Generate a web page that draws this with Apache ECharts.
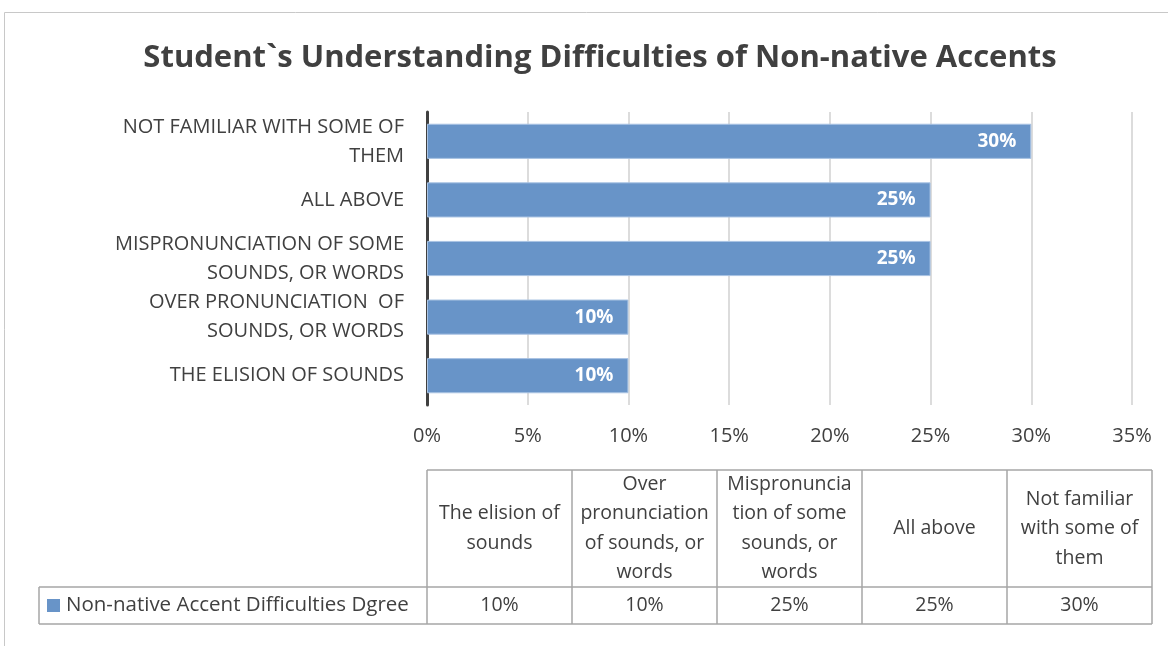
<!DOCTYPE html>
<html>
<head>
<meta charset="utf-8">
<script src="https://cdn.jsdelivr.net/npm/echarts@6/dist/echarts.min.js"></script>
<style>
  html, body { margin: 0; padding: 0; background: #fff; }
  #chart { width: 1168px; height: 646px; }
</style>
</head>
<body>
<div id="chart"></div>
<script>
// Categories, bottom to top on the axis (same order as the table columns)
const axisCategories = [
  'THE ELISION OF SOUNDS',
  'OVER PRONUNCIATION  OF\nSOUNDS, OR WORDS',
  'MISPRONUNCIATION OF SOME\nSOUNDS, OR WORDS',
  'ALL ABOVE',
  'NOT FAMILIAR WITH SOME OF\nTHEM'
];
const tableHeaders = [
  'The elision of\nsounds',
  'Over\npronunciation\nof sounds, or\nwords',
  'Mispronuncia\ntion of some\nsounds, or\nwords',
  'All above',
  'Not familiar\nwith some of\nthem'
];
const seriesName = 'Non-native Accent Difficulties Dgree';
const seriesValues = [10, 10, 25, 25, 30];
const xTicks = { min: 0, max: 35, step: 5 };

const FONT = '"Open Sans", "Liberation Sans", sans-serif';
const TEXT = '#404040';
const BAR = '#6894c8';
const LINE = '#a6a6a6';

// plot area geometry
const G = { left: 427, right: 36, top: 112, bottom: 241 };

// data table geometry
const tbl = {
  x0: G.left, x1: 1152, headTop: 470, headBottom: 587, rowBottom: 624, legendLeft: 39
};

function pct(v) { return v + '%'; }

function buildTable() {
  const els = [];
  const n = tableHeaders.length;
  const colW = (tbl.x1 - tbl.x0) / n;
  const ls = { stroke: LINE, lineWidth: 1.5 };
  // horizontal rules
  els.push({ type: 'line', shape: { x1: tbl.x0, y1: tbl.headTop, x2: tbl.x1, y2: tbl.headTop }, style: ls });
  els.push({ type: 'line', shape: { x1: tbl.legendLeft, y1: tbl.headBottom, x2: tbl.x1, y2: tbl.headBottom }, style: ls });
  els.push({ type: 'line', shape: { x1: tbl.legendLeft, y1: tbl.rowBottom, x2: tbl.x1, y2: tbl.rowBottom }, style: ls });
  els.push({ type: 'line', shape: { x1: tbl.legendLeft, y1: tbl.headBottom, x2: tbl.legendLeft, y2: tbl.rowBottom }, style: ls });
  for (let i = 0; i <= n; i++) {
    const x = tbl.x0 + i * colW;
    els.push({ type: 'line', shape: { x1: x, y1: tbl.headTop, x2: x, y2: tbl.rowBottom }, style: ls });
  }
  for (let i = 0; i < n; i++) {
    const cx = tbl.x0 + (i + 0.5) * colW;
    els.push({
      type: 'text',
      style: {
        text: tableHeaders[i], x: cx, y: (tbl.headTop + tbl.headBottom) / 2,
        align: 'center', verticalAlign: 'middle',
        fontFamily: FONT, fontSize: 19.5, lineHeight: 29.5, fill: TEXT
      }
    });
    els.push({
      type: 'text',
      style: {
        text: pct(seriesValues[i]), x: cx, y: (tbl.headBottom + tbl.rowBottom) / 2,
        align: 'center', verticalAlign: 'middle',
        fontFamily: FONT, fontSize: 19.5, fill: TEXT
      }
    });
  }
  // legend key
  const my = (tbl.headBottom + tbl.rowBottom) / 2;
  els.push({ type: 'rect', shape: { x: 47, y: my - 6.5, width: 13, height: 13 }, style: { fill: BAR } });
  els.push({
    type: 'text',
    style: {
      text: seriesName, x: 66, y: my, align: 'left', verticalAlign: 'middle',
      fontFamily: FONT, fontSize: 20.5, fill: TEXT
    }
  });
  return els;
}

const chart = echarts.init(document.getElementById('chart'));
chart.setOption({
  backgroundColor: '#fff',
  animation: false,
  title: {
    text: 'Student`s Understanding Difficulties of Non-native Accents',
    left: 595, top: 38, textAlign: 'center',
    textStyle: { fontFamily: FONT, fontSize: 31, fontWeight: 'bold', color: TEXT }
  },
  grid: { left: G.left, right: G.right, top: G.top, bottom: G.bottom, containLabel: false },
  xAxis: {
    type: 'value', min: xTicks.min, max: xTicks.max, interval: xTicks.step,
    axisLine: { show: false }, axisTick: { show: false },
    splitLine: { show: true, lineStyle: { color: '#d0d0d0', width: 1.5 } },
    axisLabel: { formatter: pct, color: TEXT, fontFamily: FONT, fontSize: 20, margin: 21 }
  },
  yAxis: {
    type: 'category', data: axisCategories,
    axisLine: { show: true, lineStyle: { color: '#404040', width: 3 } },
    axisTick: { show: false },
    axisLabel: { color: TEXT, fontFamily: FONT, fontSize: 20, lineHeight: 29, margin: 23, align: 'right' }
  },
  series: [{
    name: seriesName, type: 'bar', data: seriesValues, barCategoryGap: '40%',
    itemStyle: { color: BAR, borderColor: '#a9c3e3', borderWidth: 1 },
    label: {
      show: true, position: 'insideRight', distance: 15, formatter: p => pct(p.value),
      color: '#fff', fontFamily: FONT, fontWeight: 'bold', fontSize: 19
    }
  }],
  graphic: [
    { type: 'rect', shape: { x: 4.5, y: 12.5, width: 1300, height: 700 }, style: { fill: null, stroke: '#c8c8c8', lineWidth: 1 }, silent: true },
    { type: 'group', children: buildTable() }
  ]
});
</script>
</body>
</html>
